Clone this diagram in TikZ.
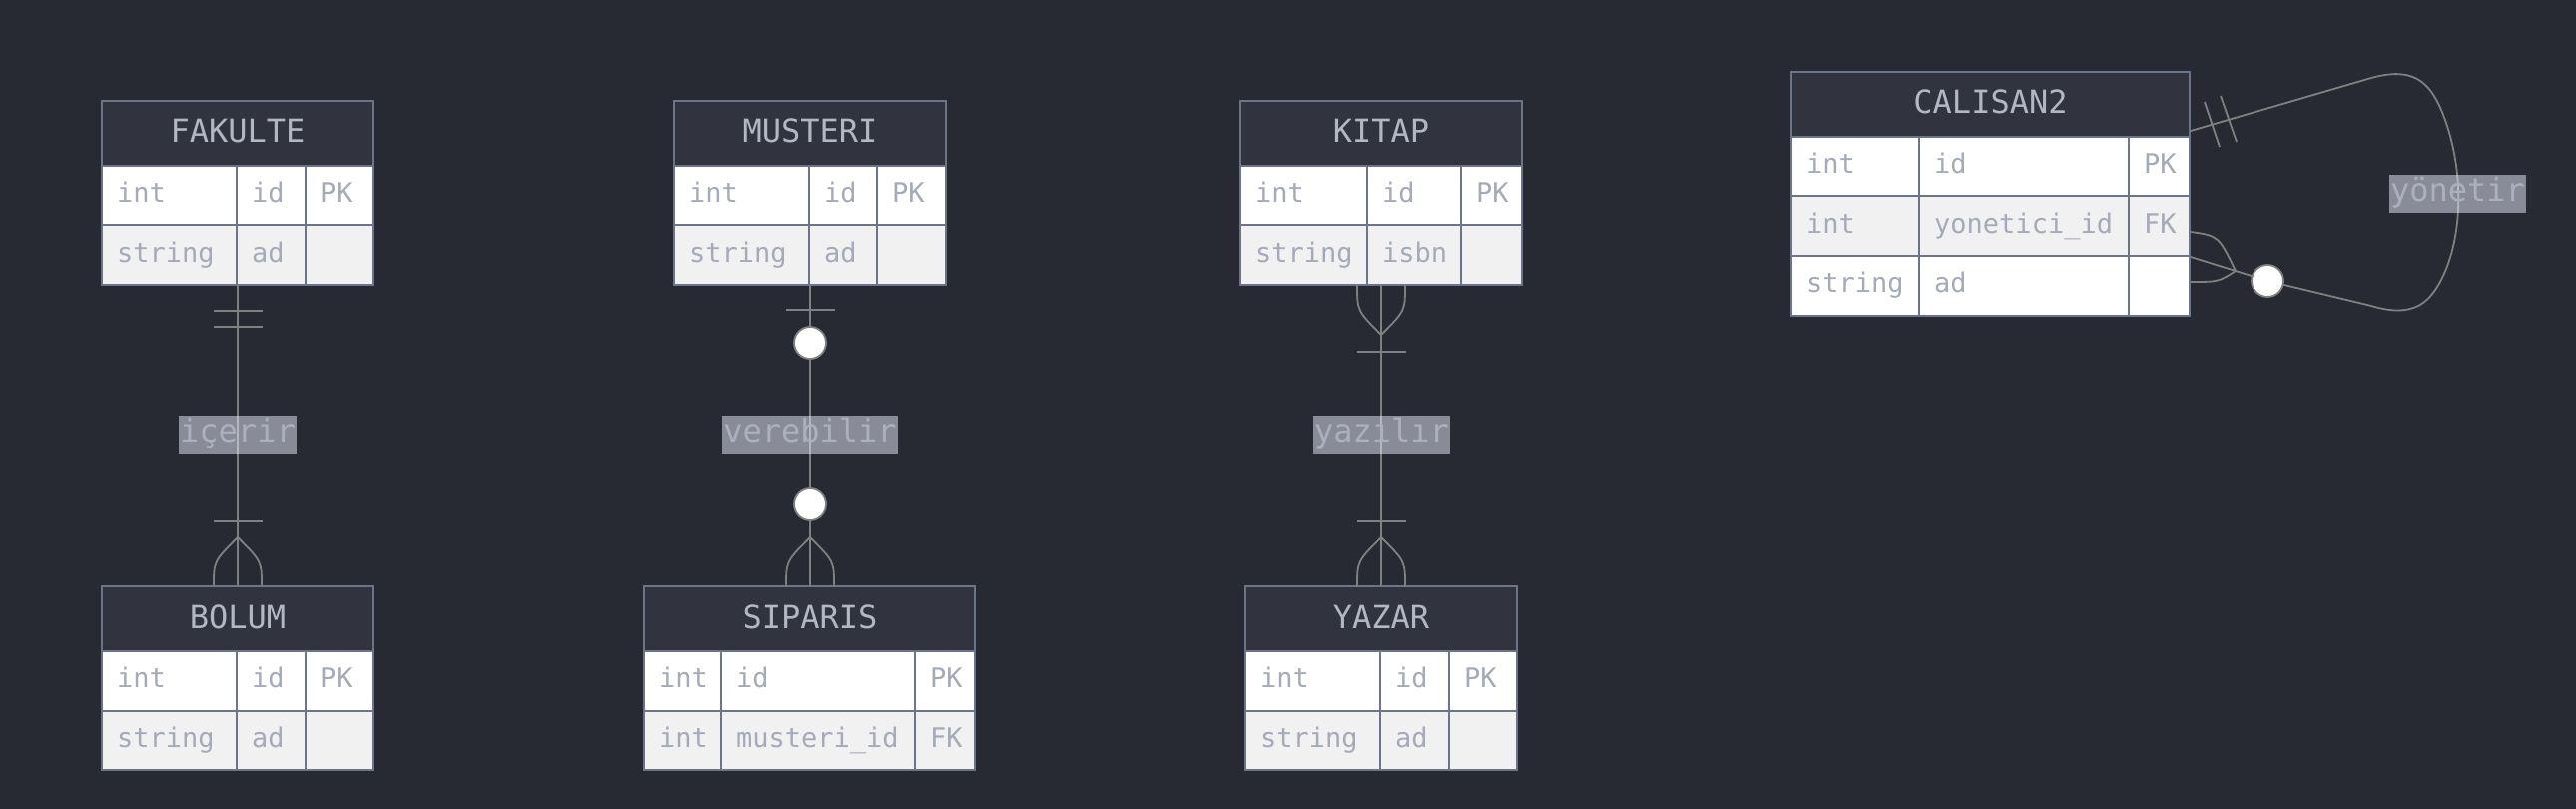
\documentclass[tikz,border=0pt]{standalone}
\usepackage{fontspec}
\newfontfamily\ermono{DejaVu Sans Mono}
\usetikzlibrary{fit,calc}
\definecolor{bgc}{RGB}{40,42,51}
\definecolor{hdrc}{RGB}{49,52,62}
\definecolor{bordc}{RGB}{108,116,137}
\definecolor{rowa}{RGB}{255,255,255}
\definecolor{rowb}{RGB}{241,241,241}
\definecolor{celltxt}{RGB}{165,170,185}
\definecolor{hdrtxt}{RGB}{178,183,197}
\definecolor{relc}{RGB}{128,128,128}
\definecolor{lblfill}{RGB}{234,238,253}
\definecolor{lbltxt}{RGB}{172,176,190}
\tikzset{
  cellbox/.style={draw=bordc, line width=2pt},
  celltext/.style={font=\ermono\fontsize{27}{32}\selectfont, text=celltxt, inner sep=0pt, anchor=base west},
  hdrtext/.style={font=\ermono\fontsize{32}{36}\selectfont, text=hdrtxt, inner sep=0pt, anchor=base},
  entframe/.style={draw=bordc, line width=2pt, inner sep=0pt, outer sep=0pt},
  rel/.style={draw=relc, line width=1.8pt},
  zerocirc/.style={circle, draw=relc, fill=white, line width=1.8pt, minimum size=32pt, inner sep=0pt},
  rellabel/.style={font=\ermono\fontsize{32}{36}\selectfont, text=lbltxt, fill=lblfill, fill opacity=0.5, text opacity=1, inner xsep=1pt, inner ysep=0pt, minimum height=38pt, text height=22pt, text depth=7pt},
}
\newcommand\ertab[7]{%
  \def\erxa{#2}\def\erxb{#3}\def\erxc{#4}\def\erxd{#5}\def\erytop{#6}\def\ername{#1}%
  \fill[hdrc] (#2,#6) rectangle (#5,#6+65);
  \node[hdrtext] (#1-title) at ({(#2+#5)/2},#6+42) {#7};
}
\newcommand\errow[5]{%
  \pgfmathsetmacro\erya{\erytop+65+(#1-1)*59.5}%
  \pgfmathsetmacro\eryb{\erya+59.5}%
  \pgfmathsetmacro\erym{\erya+29.75+7}%
  \filldraw[cellbox, fill=#2] (\erxa,\erya) rectangle (\erxb,\eryb);
  \filldraw[cellbox, fill=#2] (\erxb,\erya) rectangle (\erxc,\eryb);
  \filldraw[cellbox, fill=#2] (\erxc,\erya) rectangle (\erxd,\eryb);
  \node[celltext] (\ername-#1a) at (\erxa+15,\erym) {#3};
  \node[celltext] (\ername-#1b) at (\erxb+15,\erym) {#4};
  \node[celltext] (\ername-#1c) at (\erxc+15,\erym) {#5};
}
\newcommand\erend[1]{%
  \pgfmathsetmacro\eryend{\erytop+65+#1*59.5}%
  \node[entframe, fit={(\erxa,\erytop) (\erxd,\eryend)}] (\ername) {};
}
\begin{document}
\begin{tikzpicture}[x=1pt,y=-1pt]
\useasboundingbox (0,0) rectangle (2580,810);
\fill[bgc] (0,0) rectangle (2580,810);

% FAKULTE
\ertab{fak}{102}{237}{306}{374}{101}{FAKULTE}
\errow{1}{rowa}{int}{id}{PK}
\errow{2}{rowb}{string}{ad}{}
\erend{2}
% BOLUM
\ertab{bol}{102}{237}{306}{374}{587}{BOLUM}
\errow{1}{rowa}{int}{id}{PK}
\errow{2}{rowb}{string}{ad}{}
\erend{2}
% MUSTERI
\ertab{mus}{675}{810}{878}{947}{101}{MUSTERI}
\errow{1}{rowa}{int}{id}{PK}
\errow{2}{rowb}{string}{ad}{}
\erend{2}
% SIPARIS
\ertab{sip}{645}{722}{916}{977}{587}{SIPARIS}
\errow{1}{rowa}{int}{id}{PK}
\errow{2}{rowb}{int}{musteri\_id}{FK}
\erend{2}
% KITAP
\ertab{kit}{1242}{1369}{1463}{1524}{101}{KITAP}
\errow{1}{rowa}{int}{id}{PK}
\errow{2}{rowb}{string}{isbn}{}
\erend{2}
% YAZAR
\ertab{yaz}{1247}{1382}{1451}{1519}{587}{YAZAR}
\errow{1}{rowa}{int}{id}{PK}
\errow{2}{rowb}{string}{ad}{}
\erend{2}
% CALISAN2
\ertab{cal}{1794}{1922}{2132}{2193}{72}{CALISAN2}
\errow{1}{rowa}{int}{id}{PK}
\errow{2}{rowb}{int}{yonetici\_id}{FK}
\errow{3}{rowa}{string}{ad}{}
\erend{3}

% FAKULTE -- BOLUM
\draw[rel] (fak.south) -- (bol.north);
\draw[rel] (213.5,311) -- (262.5,311);
\draw[rel] (213.5,327) -- (262.5,327);
\draw[rel] (213.5,522) -- (262.5,522);
\draw[rel] (214,587) .. controls (214,562) .. (238,538) .. controls (262,562) .. (262,587);

% MUSTERI -- SIPARIS
\draw[rel] (mus.south) -- (sip.north);
\draw[rel] (786.5,310) -- (835.5,310);
\draw[rel] (787,587) .. controls (787,562) .. (811,538) .. controls (835,562) .. (835,587);
\node[zerocirc] (c1) at (811,343) {};
\node[zerocirc] (c2) at (811,505) {};

% KITAP -- YAZAR
\draw[rel] (kit.south) -- (yaz.north);
\draw[rel] (1359,285) .. controls (1359,311) .. (1383,335) .. controls (1407,311) .. (1407,285);
\draw[rel] (1358.5,352) -- (1407.5,352);
\draw[rel] (1358.5,522) -- (1407.5,522);
\draw[rel] (1359,587) .. controls (1359,562) .. (1383,538) .. controls (1407,562) .. (1407,587);

% CALISAN2 self relation
\coordinate (ls) at (2194,131);
\coordinate (lf) at (2194,257);
\coordinate (c3pos) at (2271,281);
\node[circle, minimum size=32pt, inner sep=0pt] (c3) at (c3pos) {};
\draw[rel] (ls) -- (2375,78) .. controls (2415,67) and (2432,80) .. (2445,110)
  .. controls (2468,165) and (2468,235) .. (2445,280)
  .. controls (2432,305) and (2415,318) .. (2375,306) -- (c3);
\draw[rel] (c3) -- (lf);
\draw[rel] (2208,102) -- (2223,147);
\draw[rel] (2224,96) -- (2240,142);
\draw[rel] (2194,232) .. controls (2222,236) .. (2239,271) .. controls (2222,282) .. (2194,282);
\node[zerocirc] (c3v) at (c3pos) {};

% labels
\node[rellabel] (l1) at (238,436) {içerir};
\node[rellabel] (l2) at (811,436) {verebilir};
\node[rellabel] (l3) at (1383.5,436) {yazılır};
\node[rellabel] (l4) at (2461.5,194) {yönetir};
\end{tikzpicture}
\end{document}
